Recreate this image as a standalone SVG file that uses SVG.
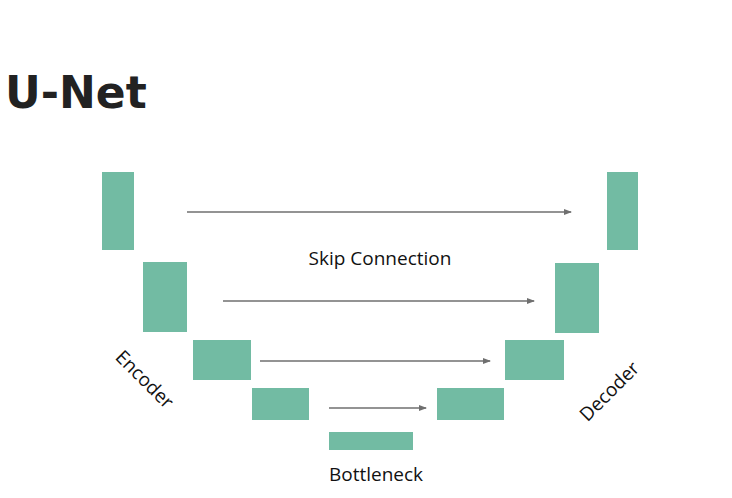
<svg xmlns="http://www.w3.org/2000/svg" width="732" height="498" viewBox="0 0 732 498">
<style>
.blk{fill:#72bba3;}
.lbl{font-family:"Open Sans","Liberation Sans",sans-serif;font-size:19px;fill:#111;}
.title{font-family:"DejaVu Sans",sans-serif;font-weight:bold;font-size:44px;fill:#222;}
.skip{stroke:#6f6f6f;stroke-width:1.6;fill:none;marker-end:url(#ah);}
</style>
<defs>
<marker id="ah" markerWidth="8" markerHeight="6" refX="7" refY="3" orient="auto" markerUnits="userSpaceOnUse">
<path d="M0,0 L8,3 L0,6 Z" fill="#6f6f6f"/>
</marker>
</defs>
<rect width="732" height="498" fill="#fff"/>
<text class="title" x="5" y="108">U-Net</text>
<g id="enc1"><rect class="blk" x="102" y="172" width="32" height="78"/></g>
<g id="enc2"><rect class="blk" x="143" y="262" width="44" height="70"/></g>
<g id="enc3"><rect class="blk" x="193" y="340" width="58" height="40"/></g>
<g id="enc4"><rect class="blk" x="252" y="388" width="57" height="32"/></g>
<g id="bottleneck"><rect class="blk" x="329" y="432" width="84" height="18"/></g>
<g id="dec4"><rect class="blk" x="437" y="388" width="67" height="32"/></g>
<g id="dec3"><rect class="blk" x="505" y="340" width="59" height="40"/></g>
<g id="dec2"><rect class="blk" x="555" y="263" width="44" height="70"/></g>
<g id="dec1"><rect class="blk" x="607" y="172" width="31" height="78"/></g>
<g id="connectors">
<line class="skip" x1="187" y1="212" x2="571" y2="212"/>
<line class="skip" x1="223" y1="301" x2="534" y2="301"/>
<line class="skip" x1="260" y1="361" x2="490" y2="361"/>
<line class="skip" x1="329" y1="408" x2="426" y2="408"/>
</g>
<text class="lbl" x="380" y="265" text-anchor="middle">Skip Connection</text>
<text class="lbl" x="376" y="481" text-anchor="middle">Bottleneck</text>
<text class="lbl" x="0" y="0" text-anchor="middle" transform="translate(140,384) rotate(45)">Encoder</text>
<text class="lbl" x="0" y="0" text-anchor="middle" transform="translate(614,396) rotate(-45)">Decoder</text>
</svg>
